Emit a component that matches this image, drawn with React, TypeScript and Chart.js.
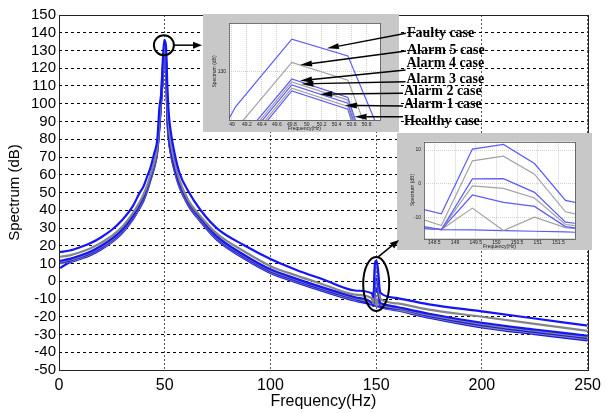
import React, { useEffect, useRef } from 'react';
import { Chart, registerables } from 'chart.js';

Chart.register(...registerables);

// ---------------- data ----------------
const FREQ = [0.5, 5, 10, 15, 20, 25, 30, 35, 38, 40, 42, 43, 45, 46.5, 47.5, 48.3, 49.05, 49.8, 50.55, 51.3, 52, 53, 54.5, 57, 61, 67, 75, 88, 100, 112, 125, 140, 147.92, 148.67, 149.42, 150.17, 150.92, 151.67, 152.42, 160, 175, 200, 225, 250];

const FAULTY = [16.4, 17.3, 19.2, 21.5, 24.8, 29, 34.7, 42.5, 49.5, 53.5, 60, 63, 72, 80, 98, 105, 123.5, 136, 132.9, 108, 93, 83, 73, 61, 51, 40, 29.5, 20, 12.5, 6.5, 1, -5.2, -6.8, -9, 10.3, 11.7, 6, -5, -6.9, -9.5, -13, -17, -21, -25];
const ALARM5 = [13.8, 14.6, 16.3, 18.6, 21.7, 25.5, 30.8, 38.5, 44.3, 49, 55, 59, 67, 76, 92, 106, 119.3, 131.7, 128.4, 101, 87, 77, 68, 57, 46, 36.5, 26.5, 16.5, 8.5, 3.3, -1.8, -7.5, -9.5, -12.5, 6.8, 8.2, 2.8, -8.4, -10.4, -12.5, -16, -20, -24, -28];
const ALARM4 = [11.5, 12.6, 14.5, 16.8, 20, 24, 29.3, 37, 43, 47.5, 54, 58, 66, 75, 89, 103, 116.2, 128.6, 125.2, 94, 81, 73, 65, 55, 45, 35.5, 25, 14.5, 6.7, 1.5, -3.6, -9, -12.1, -13.7, 1.4, 1.5, -2.6, -11.5, -12.5, -14.5, -18.3, -23.4, -27.2, -30.7];
const ALARM3 = [11, 12.1, 14, 16.3, 19.5, 23.5, 28.8, 36.5, 42.5, 47, 53.5, 57.5, 65.5, 74.5, 88.5, 102.5, 115.5, 128.05, 124.7, 93, 80.5, 72.5, 64.5, 54.5, 44.5, 35, 24.5, 14, 6.2, 1, -4.1, -9.5, -12.6, -13.7, -0.7, -1.4, -4.3, -12.2, -13.2, -15, -19, -24, -27.9, -31.4];
const ALARM2 = [10.5, 11.6, 13.5, 15.8, 19, 23, 28.3, 36, 42, 46.5, 53, 57, 65, 74, 88, 102, 115, 127.5, 124.1, 92, 80, 72, 64, 54, 44, 34.5, 24, 13.5, 5.7, 0.5, -4.6, -10, -13, -13.7, -3.4, -5.6, -6.8, -12.8, -14.1, -15.5, -19.5, -24.7, -28.5, -32];
const ALARM1 = [10, 11.1, 13, 15.3, 18.5, 22.5, 27.8, 35.5, 41.5, 46, 52.5, 56.5, 64.5, 73.5, 87.5, 101.5, 114.3, 126.9, 123.5, 91, 79.5, 71.5, 63.5, 53.5, 43.5, 34, 23.5, 13, 5.2, 0, -5.1, -10.5, -12.8, -13.7, -7.3, -14, -10, -13.1, -14.1, -16, -20, -25.4, -29.1, -32.6];
const HEALTHY = [7.5, 10.6, 12.5, 14.8, 18, 22, 27.3, 35, 41, 45.5, 52, 56, 64, 73, 87, 101, 113.7, 126.4, 123, 90, 79, 71, 63, 53, 43, 33.5, 23, 12.5, 4.7, -0.5, -5.6, -11, -13.2, -13.7, -13.8, -14, -14.2, -14.4, -14.7, -16.5, -20.5, -26, -29.8, -33.3];

const SERIES_NAMES = ['Faulty case', 'Alarm 5 case', 'Alarm 4 case', 'Alarm 3 case', 'Alarm 2 case', 'Alarm 1 case', 'Healthy case'];
const SERIES_VALUES = [FAULTY, ALARM5, ALARM4, ALARM3, ALARM2, ALARM1, HEALTHY];

const MAIN_X_TICKS = [0, 50, 100, 150, 200, 250];
const MAIN_Y_TICKS = [-50, -40, -30, -20, -10, 0, 10, 20, 30, 40, 50, 60, 70, 80, 90, 100, 110, 120, 130, 140, 150];
const ZOOM1_X_TICKS = [49, 49.2, 49.4, 49.6, 49.8, 50, 50.2, 50.4, 50.6, 50.8];
const ZOOM1_Y_TICKS = [130];
const ZOOM2_X_TICKS = [148.5, 149, 149.5, 150, 150.5, 151, 151.5];
const ZOOM2_Y_TICKS = [-10, 0, 10];

// arrow targets (zoom-1 data coordinates), one per series label
const ARROW_TARGET_FREQ = [50.27, 49.91, 49.91, 49.93, 50.18, 50.51, 50.64];
const ARROW_TARGET_DB = [134.3, 131.2, 128.3, 127.7, 125.8, 123.7, 121.6];

// marked regions (main data coordinates)
const PEAK_MARK = { freq: 49.6, db: 133 };
const HARMONIC_MARK = { freq: 150, db: -1.5 };

// ---------------- layout / styles ----------------
const SANS = '"Liberation Sans", Arial, sans-serif';
const SERIF = '"Liberation Serif", "Times New Roman", serif';
const BLUE = '#1414ff';
const GREY = '#858585';
const ZBLUE = '#5a5aff';
const ZGREY = '#a2a2a2';
const SERIES_COLORS = [BLUE, GREY, BLUE, GREY, BLUE, GREY, BLUE];
const ZOOM_COLORS = [ZBLUE, ZGREY, ZBLUE, ZGREY, ZBLUE, ZGREY, ZBLUE];

const W = 607;
const H = 413;
const Z1 = { left: 203, top: 14, width: 196, height: 118 };
const Z2 = { left: 397, top: 133, width: 195, height: 117 };
const LABEL_X = [407, 407, 406.5, 406.5, 404, 404, 404];
const LABEL_Y = [33.3, 50.7, 63.3, 79.3, 91.7, 104, 121.7];
const ARROW_START_Y = [33.3, 51, 70, 81.7, 93.3, 106, 116.7];

const framePlugin = (color: string, width: number, fillArea?: string) => ({
  id: 'frame',
  beforeDraw(chart: any) {
    if (!fillArea) return;
    const { ctx, chartArea: a } = chart;
    ctx.save();
    ctx.fillStyle = fillArea;
    ctx.fillRect(a.left, a.top, a.right - a.left, a.bottom - a.top);
    ctx.restore();
  },
  afterDraw(chart: any) {
    const { ctx, chartArea: a } = chart;
    ctx.save();
    ctx.setLineDash([]);
    ctx.strokeStyle = color;
    ctx.lineWidth = width;
    ctx.strokeRect(Math.round(a.left) + 0.5, Math.round(a.top) + 0.5, Math.round(a.right - a.left), Math.round(a.bottom - a.top));
    ctx.restore();
  },
});

const setTicks = (list: number[]) => (axis: any) => {
  axis.ticks = list.map((value) => ({ value }));
};

function buildDatasets(colors: string[], width: number, smooth: boolean) {
  return SERIES_VALUES.map((vals, i) => ({
    label: SERIES_NAMES[i],
    data: FREQ.map((f, j) => ({ x: f, y: vals[j] })),
    borderColor: colors[i],
    backgroundColor: colors[i],
    borderWidth: width,
    pointRadius: 0,
    fill: false,
    tension: smooth ? 0.4 : 0,
    cubicInterpolationMode: smooth ? 'monotone' : 'default',
  }));
}

function zoomOptions(cfg: any) {
  const tickFont = { family: SANS, size: 5 };
  return {
    responsive: false,
    animation: false,
    events: [],
    layout: { padding: cfg.padding },
    plugins: { legend: { display: false }, tooltip: { enabled: false } },
    scales: {
      x: {
        type: 'linear',
        min: cfg.xmin,
        max: cfg.xmax,
        afterBuildTicks: setTicks(cfg.xticks),
        afterFit: (s: any) => { s.height = cfg.xh; },
        grid: { color: '#bdbdbd', lineWidth: 0.7, drawTicks: false, borderDash: [1, 1] },
        border: { display: false, dash: [1, 1] },
        ticks: { color: '#222', font: tickFont, padding: 1.5, maxRotation: 0, autoSkip: false, callback: (v: any) => String(Math.round(Number(v) * 10) / 10) },
        title: { display: true, text: 'Frequency(Hz)', color: '#222', font: tickFont, padding: { top: 0, bottom: 0.5 } },
      },
      y: {
        type: 'linear',
        min: cfg.ymin,
        max: cfg.ymax,
        afterBuildTicks: setTicks(cfg.yticks),
        afterFit: (s: any) => { s.width = cfg.yw; },
        grid: { color: '#bdbdbd', lineWidth: 0.7, drawTicks: false, borderDash: [1, 1] },
        border: { display: false, dash: [1, 1] },
        ticks: { color: '#222', font: tickFont, padding: 3, autoSkip: false },
        title: { display: true, text: 'Spectrum (dB)', color: '#222', font: tickFont, padding: { top: cfg.ytitlePad, bottom: 0 } },
      },
    },
  };
}

function drawArrow(ctx: CanvasRenderingContext2D, x1: number, y1: number, x2: number, y2: number, len: number, half: number) {
  const ang = Math.atan2(y2 - y1, x2 - x1);
  const bx = x2 - len * Math.cos(ang);
  const by = y2 - len * Math.sin(ang);
  ctx.beginPath();
  ctx.moveTo(x1, y1);
  ctx.lineTo(bx, by);
  ctx.stroke();
  ctx.beginPath();
  ctx.moveTo(x2, y2);
  ctx.lineTo(bx + half * Math.sin(ang), by - half * Math.cos(ang));
  ctx.lineTo(bx - half * Math.sin(ang), by + half * Math.cos(ang));
  ctx.closePath();
  ctx.fill();
}

export default function App() {
  const mainRef = useRef<HTMLCanvasElement>(null);
  const z1Ref = useRef<HTMLCanvasElement>(null);
  const z2Ref = useRef<HTMLCanvasElement>(null);
  const overRef = useRef<HTMLCanvasElement>(null);

  useEffect(() => {
    const main = new Chart(mainRef.current as HTMLCanvasElement, {
      type: 'line',
      data: { datasets: buildDatasets(SERIES_COLORS, 2.2, true) as any },
      options: {
        responsive: false,
        animation: false,
        events: [],
        layout: { padding: { left: 0, top: 15, right: 14, bottom: 1 } },
        plugins: { legend: { display: false }, tooltip: { enabled: false } },
        scales: {
          x: {
            type: 'linear',
            min: 0,
            max: 250,
            afterBuildTicks: setTicks(MAIN_X_TICKS),
            afterFit: (s: any) => { s.height = 42; },
            grid: { color: '#555', lineWidth: 1, drawTicks: false, borderDash: [2, 2] } as any,
            border: { display: false, dash: [2, 2] },
            ticks: { color: '#000', font: { family: SANS, size: 16 }, padding: 6, maxRotation: 0, autoSkip: false },
            title: { display: true, text: 'Frequency(Hz)', color: '#000', font: { family: SANS, size: 16 }, padding: { top: 0, bottom: 1 } },
          },
          y: {
            type: 'linear',
            min: -50,
            max: 150,
            afterBuildTicks: setTicks(MAIN_Y_TICKS),
            afterFit: (s: any) => { s.width = 59; },
            grid: { color: '#000', lineWidth: 1, drawTicks: false, borderDash: [3, 3] } as any,
            border: { display: false, dash: [3, 3] },
            ticks: { color: '#000', font: { family: SANS, size: 15 }, padding: 3, autoSkip: false },
            title: { display: true, text: 'Spectrum (dB)', color: '#000', font: { family: SANS, size: 15 }, padding: { top: 6, bottom: 0 } },
          },
        },
      } as any,
      plugins: [framePlugin('#222', 1)],
    });

    const z1 = new Chart(z1Ref.current as HTMLCanvasElement, {
      type: 'line',
      data: { datasets: buildDatasets(ZOOM_COLORS, 1.2, false) as any },
      options: zoomOptions({
        padding: { left: 0, top: 9, right: 19, bottom: 0 },
        xmin: 48.96, xmax: 50.98, ymin: 121, ymax: 139,
        xticks: ZOOM1_X_TICKS, yticks: ZOOM1_Y_TICKS, xh: 12, yw: 26, ytitlePad: 9,
      }) as any,
      plugins: [framePlugin('#555', 0.8, '#ffffff')],
    });

    const z2 = new Chart(z2Ref.current as HTMLCanvasElement, {
      type: 'line',
      data: { datasets: buildDatasets(ZOOM_COLORS, 1.2, false) as any },
      options: zoomOptions({
        padding: { left: 0, top: 8.7, right: 17, bottom: 0 },
        xmin: 148.25, xmax: 151.9, ymin: -16.3, ymax: 12.5,
        xticks: ZOOM2_X_TICKS, yticks: ZOOM2_Y_TICKS, xh: 11.7, yw: 27, ytitlePad: 13,
      }) as any,
      plugins: [framePlugin('#555', 0.8, '#ffffff')],
    });

    const oc = overRef.current as HTMLCanvasElement;
    const ctx = oc.getContext('2d') as CanvasRenderingContext2D;
    ctx.clearRect(0, 0, W, H);
    ctx.strokeStyle = '#000';
    ctx.fillStyle = '#000';

    const mx = main.scales.x;
    const my = main.scales.y;
    // circle at fundamental peak
    const cx = mx.getPixelForValue(PEAK_MARK.freq);
    const cy = my.getPixelForValue(PEAK_MARK.db);
    ctx.lineWidth = 2;
    ctx.beginPath();
    ctx.arc(cx, cy, 10, 0, Math.PI * 2);
    ctx.stroke();
    ctx.lineWidth = 1.5;
    drawArrow(ctx, cx + 10, cy, Z1.left - 1, cy, 9, 3.5);

    // ellipse at third harmonic
    const ex = mx.getPixelForValue(HARMONIC_MARK.freq);
    const ey = my.getPixelForValue(HARMONIC_MARK.db);
    ctx.lineWidth = 2;
    ctx.beginPath();
    ctx.ellipse(ex, ey, 13, 27, 0, 0, Math.PI * 2);
    ctx.stroke();
    ctx.lineWidth = 1.5;
    drawArrow(ctx, ex + 2, ey - 27, Z2.left + 2, Z2.top + Z2.height - 10, 9, 3.5);

    // labels with arrows into zoom 1
    ctx.font = `bold 14px ${SERIF}`;
    ctx.textBaseline = 'middle';
    ctx.textAlign = 'left';
    SERIES_NAMES.forEach((name, i) => {
      const tx = Z1.left + z1.scales.x.getPixelForValue(ARROW_TARGET_FREQ[i]);
      const ty = Z1.top + z1.scales.y.getPixelForValue(ARROW_TARGET_DB[i]);
      ctx.lineWidth = 1.4;
      drawArrow(ctx, LABEL_X[i] - 1, ARROW_START_Y[i], tx, ty, 12, 3);
      ctx.fillText(name, LABEL_X[i], LABEL_Y[i]);
    });

    return () => {
      main.destroy();
      z1.destroy();
      z2.destroy();
    };
  }, []);

  return (
    <div style={{ position: 'absolute', left: 0, top: 0, width: W, height: H, background: '#fff' }}>
      <canvas ref={mainRef} width={W} height={H} style={{ position: 'absolute', left: 0, top: 0 }} />
      <canvas ref={z1Ref} width={Z1.width} height={Z1.height} style={{ position: 'absolute', left: Z1.left, top: Z1.top, background: '#c8c8c8' }} />
      <canvas ref={z2Ref} width={Z2.width} height={Z2.height} style={{ position: 'absolute', left: Z2.left, top: Z2.top, background: '#c8c8c8' }} />
      <canvas ref={overRef} width={W} height={H} style={{ position: 'absolute', left: 0, top: 0, pointerEvents: 'none' }} />
    </div>
  );
}
